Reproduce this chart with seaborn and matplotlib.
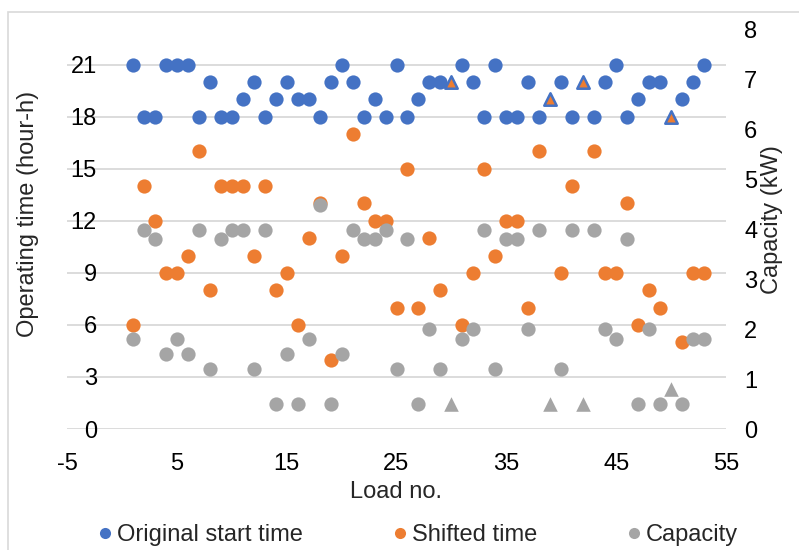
import matplotlib
matplotlib.use("Agg")
import matplotlib.pyplot as plt
import seaborn as sns
from matplotlib.lines import Line2D
from matplotlib.patches import Rectangle

# ---------------- data ----------------
load_no = [1, 2, 3, 4, 5, 6, 7, 8, 9, 10, 11, 12, 13, 14, 15, 16, 17, 18, 19, 20,
           21, 22, 23, 24, 25, 26, 27, 28, 29, 31, 32, 33, 34, 35, 36, 37, 38,
           40, 41, 43, 44, 45, 46, 47, 48, 49, 51, 52, 53]
original_start = [21, 18, 18, 21, 21, 21, 18, 20, 18, 18, 19, 20, 18, 19, 20, 19, 19, 18, 20, 21,
                  20, 18, 19, 18, 21, 18, 19, 20, 20, 21, 20, 18, 21, 18, 18, 20, 18,
                  20, 18, 18, 20, 21, 18, 19, 20, 20, 19, 20, 21]
shifted_time = [6, 14, 12, 9, 9, 10, 16, 8, 14, 14, 14, 10, 14, 8, 9, 6, 11, 13, 4, 10,
                17, 13, 12, 12, 7, 15, 7, 11, 8, 6, 9, 15, 10, 12, 12, 7, 16,
                9, 14, 16, 9, 9, 13, 6, 8, 7, 5, 9, 9]
capacity = [1.8, 4.0, 3.8, 1.5, 1.8, 1.5, 4.0, 1.2, 3.8, 4.0, 4.0, 1.2, 4.0, 0.5, 1.5, 0.5, 1.8, 4.5, 0.5, 1.5,
            4.0, 3.8, 3.8, 4.0, 1.2, 3.8, 0.5, 2.0, 1.2, 1.8, 2.0, 4.0, 1.2, 3.8, 3.8, 2.0, 4.0,
            1.2, 4.0, 4.0, 2.0, 1.8, 3.8, 0.5, 2.0, 0.5, 0.5, 1.8, 1.8]

# loads that were not shifted (triangle markers)
fixed_load_no = [30, 39, 42, 50]
fixed_start = [20, 19, 20, 18]
fixed_capacity = [0.5, 0.5, 0.5, 0.8]

x_ticks = [-5, 5, 15, 25, 35, 45, 55]
left_ticks = [0, 3, 6, 9, 12, 15, 18, 21]
right_ticks = [0, 1, 2, 3, 4, 5, 6, 7, 8]
legend_labels = ["Original start time", "Shifted time", "Capacity"]

BLUE = "#4472C4"
ORANGE = "#ED7D31"
GRAY = "#A5A5A5"
GRID = "#D9D9D9"

# ---------------- style ----------------
sns.set_style("white")
plt.rcParams["font.family"] = ["Liberation Sans", "DejaVu Sans"]
plt.rcParams["axes.unicode_minus"] = False
FS = 17

W, H = 799, 550
fig = plt.figure(figsize=(W / 100, H / 100), dpi=100)
L, R, T, B = 67, 726, 30, 429
ax = fig.add_axes([L / W, 1 - B / H, (R - L) / W, (B - T) / H])
ax2 = ax.twinx()

# chart border (left and top edges visible)
fig.add_artist(Rectangle((8 / W, -0.2), 1.2, (1 - 12 / H) + 0.2, transform=fig.transFigure,
                         fill=False, edgecolor=GRID, linewidth=1.2))

s_circ = 105
sns.scatterplot(x=load_no, y=original_start, ax=ax, color=BLUE, s=s_circ, linewidth=0, zorder=3)
sns.scatterplot(x=load_no, y=shifted_time, ax=ax, color=ORANGE, s=s_circ, linewidth=0, zorder=3)
sns.scatterplot(x=fixed_load_no, y=fixed_start, ax=ax, color=ORANGE, marker="^", s=80,
                edgecolor=BLUE, linewidth=1.8, zorder=4)
sns.scatterplot(x=load_no, y=capacity, ax=ax2, color=GRAY, s=s_circ, linewidth=0, zorder=3)
sns.scatterplot(x=fixed_load_no, y=fixed_capacity, ax=ax2, color=GRAY, marker="^", s=110,
                linewidth=0, zorder=3)

ax.set_xlim(-5, 55)
ax.set_ylim(0, 23)
ax2.set_ylim(0, 8)
ax.set_xticks(x_ticks)
ax.set_yticks(left_ticks)
ax2.set_yticks(right_ticks)

ax.grid(axis="y", color=GRID, linewidth=1.3)
ax.grid(axis="x", visible=False)
ax2.grid(False)
ax.set_axisbelow(True)

for a in (ax, ax2):
    for sp in a.spines.values():
        sp.set_visible(False)
ax.spines["left"].set_position(("data", 0))

ax.tick_params(axis="y", length=0, pad=18, labelsize=FS, labelcolor="#000000")
ax.tick_params(axis="x", length=0, pad=17, labelsize=FS, labelcolor="#000000")
ax2.tick_params(axis="y", length=0, pad=13, labelsize=FS, labelcolor="#000000")

ax.set_xlabel("Load no.", fontsize=FS)
ax.xaxis.set_label_coords(0.5, (B - 492) / (B - T))
ax.xaxis.label.set_va("center")
ax.set_ylabel("Operating time (hour-h)", fontsize=FS)
ax.yaxis.set_label_coords((28 - L) / (R - L), (B - 214) / (B - T))
ax.yaxis.label.set_va("center")
ax2.set_ylabel("Capacity (kW)", fontsize=FS, rotation=90)
ax2.yaxis.set_label_coords((772 - L) / (R - L), (B - 220) / (B - T))
ax2.yaxis.label.set_va("center")

handles = [Line2D([], [], marker="o", linestyle="", markersize=8, markerfacecolor=c,
                  markeredgewidth=0) for c in (BLUE, ORANGE, GRAY)]
fig.legend(handles, legend_labels, loc="center", bbox_to_anchor=(418 / W, 1 - 535 / H),
           ncol=3, frameon=False, fontsize=FS, handlelength=0.6, handletextpad=0.2,
           columnspacing=3.8, borderpad=0)

fig.savefig("out.png", dpi=100)
